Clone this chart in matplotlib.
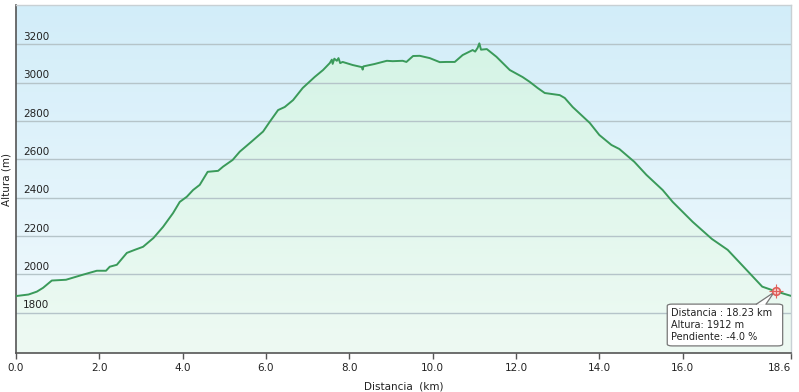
import matplotlib

matplotlib.use("Agg")
import matplotlib.pyplot as plt
import numpy as np
from matplotlib.patches import FancyBboxPatch, Polygon
import matplotlib.transforms as mtransforms

# Perfil de altura (km, m)
distancia = [0.0, 0.3, 0.5, 0.65, 0.86, 1.2, 1.6, 1.94, 2.16, 2.25, 2.42, 2.66, 2.85,
             3.05, 3.3, 3.53, 3.77, 3.93, 4.1, 4.25, 4.41, 4.6, 4.85, 4.97, 5.2, 5.37,
             5.65, 5.93, 6.09, 6.29, 6.45, 6.65, 6.88, 7.17, 7.37, 7.53, 7.58, 7.6,
             7.64, 7.7, 7.74, 7.78, 7.84, 8.08, 8.3, 8.32, 8.34, 8.6, 8.9, 9.04, 9.28,
             9.37, 9.53, 9.69, 9.93, 10.17, 10.33, 10.53, 10.72, 10.96, 11.02, 11.08,
             11.12, 11.16, 11.3, 11.53, 11.85, 12.16, 12.33, 12.52, 12.69, 13.05, 13.17,
             13.36, 13.77, 14.0, 14.29, 14.48, 14.84, 15.13, 15.52, 15.76, 16.24, 16.7,
             17.08, 17.53, 17.91, 18.23, 18.6]
altura = [1887, 1895, 1910, 1930, 1968, 1972, 1998, 2019, 2019, 2040, 2050, 2112, 2128,
          2144, 2190, 2248, 2320, 2378, 2405, 2440, 2467, 2535, 2540, 2562, 2597, 2640,
          2692, 2745, 2796, 2857, 2873, 2909, 2972, 3030, 3066, 3102, 3120, 3098,
          3125, 3114, 3128, 3102, 3108, 3092, 3081, 3068, 3085, 3097, 3114, 3112, 3114,
          3108, 3139, 3140, 3128, 3107, 3108, 3108, 3144, 3170, 3162, 3182,
          3205, 3172, 3175, 3135, 3066, 3029, 3004, 2972, 2946, 2935, 2920,
          2873, 2790, 2727, 2675, 2654, 2587, 2519, 2440, 2378, 2274, 2185,
          2128, 2024, 1936, 1912, 1888]

ticks_x = [0.0, 2.0, 4.0, 6.0, 8.0, 10.0, 12.0, 14.0, 16.0, 18.6]
ticks_y = [1800, 2000, 2200, 2400, 2600, 2800, 3000, 3200]

punto_km, punto_alt, punto_pend = 18.23, 1912, -4.0

fig = plt.figure(figsize=(7.99, 3.92), dpi=100)
ax = fig.add_axes([16 / 799, 39 / 392, 775 / 799, 348 / 392])
x0, x1, y0, y1 = 0, 18.6, 1590, 3405
ax.set_xlim(x0, x1)
ax.set_ylim(y0, y1)

# Fondo con degradado azul
fondo = np.linspace(0, 1, 256).reshape(-1, 1)
ax.imshow(fondo, extent=[x0, x1, y0, y1], aspect="auto", origin="lower",
          cmap=matplotlib.colors.LinearSegmentedColormap.from_list("f", ["#f2fafd", "#d2edf9"]),
          zorder=0)

# Relleno verde bajo el perfil
relleno = ax.imshow(fondo, extent=[x0, x1, y0, max(altura)], aspect="auto", origin="lower",
                    cmap=matplotlib.colors.LinearSegmentedColormap.from_list("g", ["#eefaf3", "#d5f4e6"]),
                    zorder=1)
poly = Polygon(list(zip(distancia, altura)) + [(distancia[-1], y0), (distancia[0], y0)],
               closed=True, facecolor="none", edgecolor="none", transform=ax.transData)
ax.add_patch(poly)
relleno.set_clip_path(poly)

for v in ticks_y:
    ax.axhline(v, color="#b5c4c9", lw=1.0, zorder=2)

ax.plot(distancia, altura, color="#3a9a5a", lw=1.4, zorder=3)

# Etiquetas del eje y dentro del grafico
trans = mtransforms.blended_transform_factory(ax.transAxes, ax.transData)
for v in ticks_y:
    ax.text(7 / 775, v + 12, str(v), transform=trans, fontsize=7.5, color="#222222",
            ha="left", va="bottom", zorder=4)

ax.set_yticks([])
ax.set_xticks(ticks_x)
ax.set_xticklabels([f"{t:.1f}" for t in ticks_x], fontsize=7.5, color="#222222")
ax.get_xticklabels()[-1].set_horizontalalignment("right")
ax.tick_params(axis="x", direction="out", length=4, width=1, color="#555555", pad=3)
ax.set_xlabel("Distancia  (km)", fontsize=7.5, color="#222222", labelpad=6)
ax.set_ylabel("Altura (m)", fontsize=7.5, color="#222222", labelpad=3)

for lado in ["top", "right"]:
    ax.spines[lado].set_color("#c8d0d4")
    ax.spines[lado].set_linewidth(1)
for lado in ["left", "bottom"]:
    ax.spines[lado].set_color("#555555")
    ax.spines[lado].set_linewidth(1.2)

# Marcador y tooltip
ax.plot(punto_km, punto_alt, "o", ms=5.5, mfc="#f6d0cc", mec="#e0605a", mew=1.2, zorder=10)
ax.plot(punto_km, punto_alt, "+", ms=10, mec="#e0605a", mew=0.8, zorder=10)

bx0, bx1 = 15.63, 18.4
by0, by1 = 1627, 1845
caja = FancyBboxPatch((bx0, by0), bx1 - bx0, by1 - by0,
                      boxstyle="round,pad=0,rounding_size=0.12", mutation_aspect=80,
                      facecolor="white", edgecolor="#777777", lw=0.9, zorder=7)
ax.add_patch(caja)
px_a, px_b = 17.77, 18.0
punta = (punto_km - 0.04, punto_alt - 6)
ax.add_patch(Polygon([(px_a, by1 - 4), punta, (px_b, by1 - 4)],
                     closed=True, facecolor="white", edgecolor="none", zorder=8))
ax.plot([px_a, punta[0], px_b], [by1, punta[1], by1], color="#777777", lw=0.9, zorder=8)
texto = (f"Distancia : {punto_km:.2f} km\nAltura: {punto_alt} m\n"
         f"Pendiente: {punto_pend:.1f} %")
ax.text(bx0 + 0.08, (by0 + by1) / 2, texto, fontsize=7, color="#222222",
        va="center", ha="left", linespacing=1.25, zorder=9)

fig.savefig("out.png", dpi=100)
